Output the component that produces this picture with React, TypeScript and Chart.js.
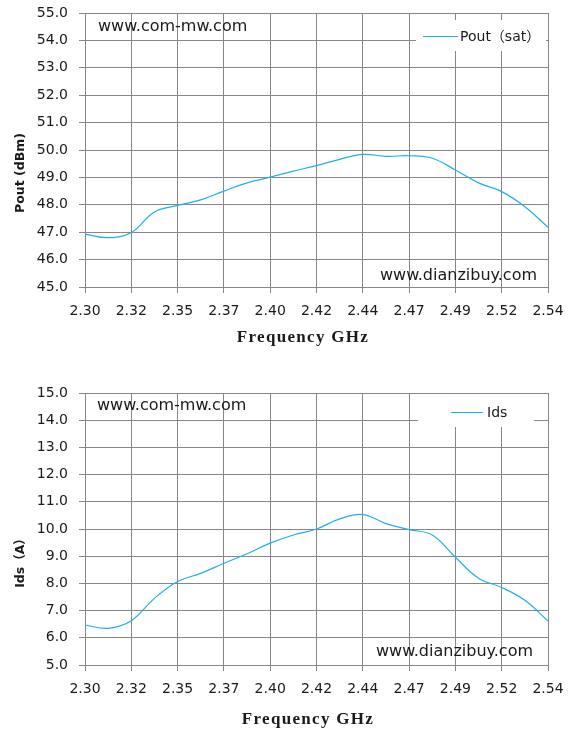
import React, { useEffect, useRef } from "react";
import { Chart, registerables } from "chart.js";

Chart.register(...registerables);

// ---- data ----
const FREQ_GHZ = [
  2.300, 2.312, 2.324, 2.336, 2.348, 2.360, 2.372, 2.384, 2.396, 2.408, 2.420,
  2.432, 2.444, 2.456, 2.468, 2.480, 2.492, 2.504, 2.516, 2.528, 2.540,
];
const X_TICKS = [2.300, 2.324, 2.348, 2.372, 2.396, 2.420, 2.444, 2.468, 2.492, 2.516, 2.540];
const POUT_SAT = [
  46.93, 46.80, 46.99, 47.74, 47.98, 48.18, 48.50, 48.80, 49.01, 49.23, 49.43,
  49.66, 49.84, 49.77, 49.79, 49.70, 49.27, 48.80, 48.48, 47.93, 47.18,
];
const IDS_A = [
  6.47, 6.35, 6.63, 7.45, 8.07, 8.37, 8.74, 9.09, 9.48, 9.78, 10.00,
  10.37, 10.53, 10.20, 9.98, 9.78, 8.96, 8.19, 7.85, 7.38, 6.62,
];
const POUT_RANGE = [45, 55];
const IDS_RANGE = [5, 15];

const LINE_COLOR = "#1EB0EE";
const GRID_COLOR = "#878787";
const TEXT_COLOR = "#1a1a1a";
const SANS = "'DejaVu Sans', 'Noto Sans CJK SC', sans-serif";

type Note = { text: string; x: number; y: number; align: CanvasTextAlign };
type Decor = {
  yTitle: string; yTitleX: number; yTitleY: number;
  xTitle: string; xTitleX: number; xTitleY: number;
  notes: Note[];
  legendLabel: string;
  legendBox: [number, number, number, number];
  legendLine: [number, number, number];
  legendTextX: number;
};

function makeDecor(d: Decor) {
  return {
    id: "decor",
    afterDraw(chart: any) {
      const ctx: any = chart.ctx;
      ctx.save();
      // legend
      const [bx, by, bw, bh] = d.legendBox;
      ctx.fillStyle = "#ffffff";
      ctx.fillRect(bx, by, bw, bh);
      ctx.strokeStyle = LINE_COLOR;
      ctx.lineWidth = 1;
      ctx.beginPath();
      ctx.moveTo(d.legendLine[0], d.legendLine[2] + 0.5);
      ctx.lineTo(d.legendLine[1], d.legendLine[2] + 0.5);
      ctx.stroke();
      ctx.fillStyle = TEXT_COLOR;
      ctx.font = `14px ${SANS}`;
      ctx.textAlign = "left";
      ctx.textBaseline = "middle";
      ctx.fillText(d.legendLabel, d.legendTextX, d.legendLine[2] + 1);
      // notes
      ctx.font = `16px ${SANS}`;
      for (const n of d.notes) {
        ctx.textAlign = n.align;
        ctx.fillText(n.text, n.x, n.y);
      }
      // x title
      ctx.font = `bold 17px 'Liberation Serif', serif`;
      ctx.textAlign = "center";
      if ("letterSpacing" in ctx) ctx.letterSpacing = "1.3px";
      ctx.fillText(d.xTitle, d.xTitleX, d.xTitleY);
      if ("letterSpacing" in ctx) ctx.letterSpacing = "0px";
      // y title
      ctx.translate(d.yTitleX, d.yTitleY);
      ctx.rotate(-Math.PI / 2);
      ctx.font = `bold 12.5px ${SANS}`;
      ctx.fillText(d.yTitle, 0, 0);
      ctx.restore();
    },
  };
}

function buildConfig(values: number[], range: number[], label: string, padTop: number, axisH: number, decor: Decor): any {
  return {
    type: "line",
    data: {
      datasets: [
        {
          label,
          data: FREQ_GHZ.map((f, i) => ({ x: f, y: values[i] })),
          borderColor: LINE_COLOR,
          borderWidth: 1.2,
          pointRadius: 0,
          tension: 0.4,
          fill: false,
        },
      ],
    },
    options: {
      animation: false,
      responsive: false,
      devicePixelRatio: 1,
      layout: { padding: { top: padTop, right: 29, left: 0, bottom: 0 } },
      plugins: { legend: { display: false }, tooltip: { enabled: false } },
      scales: {
        x: {
          type: "linear",
          min: X_TICKS[0],
          max: X_TICKS[X_TICKS.length - 1],
          afterBuildTicks: (s: any) => {
            s.ticks = X_TICKS.map((v) => ({ value: v }));
          },
          afterFit: (s: any) => {
            s.height = axisH;
            s.paddingLeft = 0;
            s.paddingRight = 0;
          },
          ticks: {
            callback: (v: any) => Number(v).toFixed(2),
            font: { family: SANS, size: 14 },
            color: TEXT_COLOR,
            padding: 10,
            maxRotation: 0,
            autoSkip: false,
          },
          grid: { color: GRID_COLOR, lineWidth: 1, tickLength: 6, drawTicks: true },
          border: { color: GRID_COLOR, width: 1 },
        },
        y: {
          min: range[0],
          max: range[1],
          afterFit: (s: any) => {
            s.width = 85;
            s.paddingTop = 0;
            s.paddingBottom = 0;
          },
          ticks: {
            stepSize: 1,
            callback: (v: any) => Number(v).toFixed(1),
            font: { family: SANS, size: 14 },
            color: TEXT_COLOR,
            padding: 11,
          },
          grid: { color: GRID_COLOR, lineWidth: 1, tickLength: 6, drawTicks: true },
          border: { color: GRID_COLOR, width: 1 },
        },
      },
    },
    plugins: [makeDecor(decor)],
  };
}

function ChartCanvas({ config, height }: { config: any; height: number }) {
  const ref = useRef<HTMLCanvasElement | null>(null);
  useEffect(() => {
    if (!ref.current) return;
    const chart = new Chart(ref.current, config);
    return () => chart.destroy();
  }, [config]);
  return <canvas ref={ref} width={577} height={height} style={{ display: "block", width: 577, height }} />;
}

const topConfig = buildConfig(POUT_SAT, POUT_RANGE, "Pout（sat）", 13, 83, {
  yTitle: "Pout (dBm)", yTitleX: 21, yTitleY: 173,
  xTitle: "Frequency GHz", xTitleX: 303, xTitleY: 338,
  notes: [
    { text: "www.com-mw.com", x: 98, y: 27, align: "left" },
    { text: "www.dianzibuy.com", x: 537, y: 276, align: "right" },
  ],
  legendLabel: "Pout（sat）",
  legendBox: [416, 20, 130, 31],
  legendLine: [423, 458, 36],
  legendTextX: 460,
});

const bottomConfig = buildConfig(IDS_A, IDS_RANGE, "Ids", 23, 76, {
  yTitle: "Ids（A）", yTitleX: 21, yTitleY: 190,
  xTitle: "Frequency GHz", xTitleX: 308, xTitleY: 350,
  notes: [
    { text: "www.com-mw.com", x: 97, y: 36, align: "left" },
    { text: "www.dianzibuy.com", x: 533, y: 282, align: "right" },
  ],
  legendLabel: "Ids",
  legendBox: [418, 24, 116, 33],
  legendLine: [451, 483, 42],
  legendTextX: 487,
});

export default function App() {
  return (
    <div style={{ position: "absolute", left: 0, top: 0, width: 577, height: 741, background: "#fff" }}>
      <ChartCanvas config={topConfig} height={370} />
      <ChartCanvas config={bottomConfig} height={371} />
    </div>
  );
}
